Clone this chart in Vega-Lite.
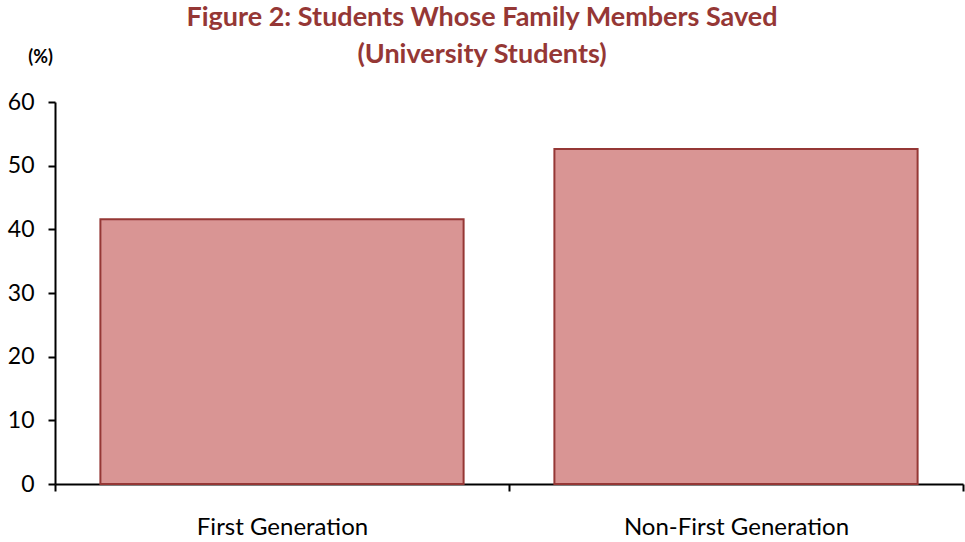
{
  "$schema": "https://vega.github.io/schema/vega-lite/v6.json",
  "autosize": "none",
  "width": 908,
  "height": 382,
  "padding": {"left": 55, "top": 102, "right": 2, "bottom": 56},
  "background": "white",
  "config": {"view": {"stroke": null}, "font": "Lato"},
  "title": {
    "text": ["Figure 2: Students Whose Family Members Saved", "(University Students)"],
    "color": "#953735",
    "fontSize": 27,
    "fontWeight": "bold",
    "font": "Lato",
    "lineHeight": 37,
    "anchor": "middle",
    "dx": -27,
    "dy": 21,
    "offset": 0
  },
  "data": {"values": [
    {"group": "First Generation", "pct": 41.6},
    {"group": "Non-First Generation", "pct": 52.6}
  ]},
  "mark": {"type": "bar", "fill": "#D99594", "stroke": "#953735", "strokeWidth": 2, "width": {"band": 0.8}},
  "encoding": {
    "x": {
      "field": "group", "type": "nominal", "sort": null,
      "scale": {"paddingInner": 0, "paddingOuter": 0},
      "axis": {
        "title": null, "labelAngle": 0, "labelFontSize": 24, "labelColor": "#000000", "labelLimit": 0,
        "labelPadding": 24, "tickBand": "extent", "tickSize": 7, "tickColor": "#000000",
        "domainColor": "#000000", "domainWidth": 2, "tickWidth": 2, "labelFont": "Lato"
      }
    },
    "y": {
      "field": "pct", "type": "quantitative",
      "scale": {"domain": [0, 60], "nice": false},
      "axis": {
        "values": [0, 10, 20, 30, 40, 50, 60], "grid": false,
        "labelFontSize": 23, "labelColor": "#000000", "labelPadding": 14, "labelFont": "Lato",
        "tickSize": 7, "tickColor": "#000000", "tickWidth": 2,
        "domainColor": "#000000", "domainWidth": 2,
        "title": "(%)", "titleAngle": 0, "titleX": -15, "titleY": -45,
        "titleAlign": "center", "titleBaseline": "middle",
        "titleFontSize": 18, "titleFontWeight": "bold", "titleColor": "#000000", "titleFont": "Lato"
      }
    }
  }
}
